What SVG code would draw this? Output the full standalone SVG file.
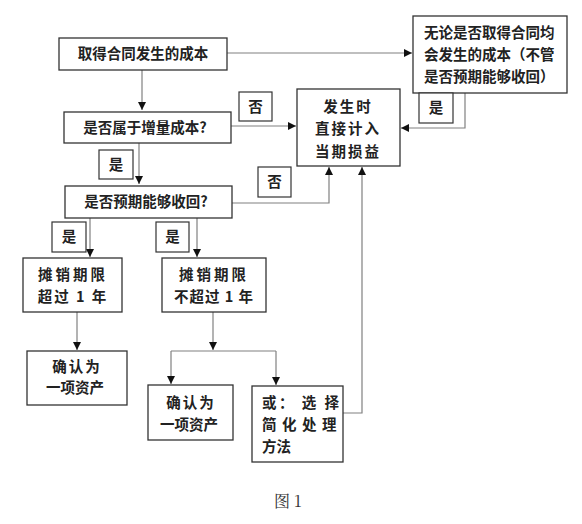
<svg xmlns="http://www.w3.org/2000/svg" width="582" height="524" viewBox="0 0 582 524">
<style>
.box{fill:#fff;stroke:#333;stroke-width:1.3}
.lab{fill:#fff;stroke:#333;stroke-width:1.2}
.t{font-family:"Noto Sans CJK SC","Noto Sans",sans-serif;font-size:14.5px;font-weight:bold;fill:#222}
.c{text-anchor:middle}
.ln{fill:none;stroke:#808080;stroke-width:1.2}
.cap{font-family:"Noto Serif CJK SC","Liberation Serif","Noto Sans CJK SC",serif;font-size:16px;fill:#333}
</style>
<defs>
<marker id="ah" markerWidth="9" markerHeight="9" refX="8" refY="4" orient="auto" markerUnits="userSpaceOnUse">
<path d="M0,0 L8,4 L0,8 Z" fill="#111"/>
</marker>
</defs>
<g id="connectors">
<path class="ln" d="M227,53 H412" marker-end="url(#ah)"/>
<path class="ln" d="M142,70 V110" marker-end="url(#ah)"/>
<path class="ln" d="M231,126 H296" marker-end="url(#ah)"/>
<path class="ln" d="M139,143 V184" marker-end="url(#ah)"/>
<path class="ln" d="M232,203 H329 V167" marker-end="url(#ah)"/>
<path class="ln" d="M465,93 V128 H401" marker-end="url(#ah)"/>
<path class="ln" d="M90,218 V257" marker-end="url(#ah)"/>
<path class="ln" d="M197,218 V257" marker-end="url(#ah)"/>
<path class="ln" d="M77,312 V350" marker-end="url(#ah)"/>
<path class="ln" d="M213,312 V350"/>
<path d="M209,342 L217,342 L213,350 Z" fill="#111"/>
<path class="ln" d="M171,351 H276"/>
<path class="ln" d="M171,351 V384" marker-end="url(#ah)"/>
<path class="ln" d="M276,351 V385" marker-end="url(#ah)"/>
<path class="ln" d="M343,413 H362 V167" marker-end="url(#ah)"/>
</g>
<g id="n1"><rect class="box" x="59" y="38" width="168" height="32"/><text class="t c" x="143" y="59">取得合同发生的成本</text></g>
<g id="n2"><rect class="box" x="64" y="112" width="167" height="31"/><text class="t c" x="145" y="133">是否属于增量成本?</text></g>
<g id="n3"><rect class="box" x="65" y="186" width="167" height="32"/><text class="t c" x="146" y="207">是否预期能够收回?</text></g>
<g id="n4"><rect class="box" x="297" y="89" width="103" height="77"/>
<text class="t c" x="348" y="112" letter-spacing="2">发生时</text>
<text class="t c" x="348" y="134" letter-spacing="2">直接计入</text>
<text class="t c" x="348" y="157" letter-spacing="2">当期损益</text></g>
<g id="n5"><rect class="box" x="413" y="16" width="154" height="77"/>
<text class="t" x="424" y="38">无论是否取得合同均</text>
<text class="t" x="424" y="60">会发生的成本（不管</text>
<text class="t" x="424" y="82">是否预期能够收回）</text></g>
<g id="n6"><rect class="box" x="23" y="258" width="99" height="54"/>
<text class="t c" x="73" y="280" letter-spacing="3">摊销期限</text>
<text class="t c" x="73" y="302" letter-spacing="2">超过 1 年</text></g>
<g id="n7"><rect class="box" x="162" y="258" width="104" height="54"/>
<text class="t c" x="214" y="280" letter-spacing="3">摊销期限</text>
<text class="t c" x="214" y="302" letter-spacing="1">不超过 1 年</text></g>
<g id="n8"><rect class="box" x="27" y="351" width="100" height="54"/>
<text class="t c" x="77" y="372" letter-spacing="2">确认为</text>
<text class="t c" x="75" y="393">一项资产</text></g>
<g id="n9"><rect class="box" x="148" y="385" width="85" height="55"/>
<text class="t c" x="191" y="408" letter-spacing="2">确认为</text>
<text class="t c" x="189" y="430">一项资产</text></g>
<g id="n10"><rect class="box" x="252" y="386" width="91" height="76"/>
<text class="t" x="262" y="408" letter-spacing="2.5">或： 选 择</text>
<text class="t" x="262" y="430" letter-spacing="5.5">简化处理</text>
<text class="t" x="262" y="452">方法</text></g>
<g id="l1"><rect class="lab" x="239" y="92" width="33" height="29"/><text class="t c" x="255.5" y="112">否</text></g>
<g id="l2"><rect class="lab" x="99" y="150" width="34" height="29"/><text class="t c" x="116" y="170">是</text></g>
<g id="l3"><rect class="lab" x="258" y="167" width="33" height="30"/><text class="t c" x="274.5" y="187">否</text></g>
<g id="l4"><rect class="lab" x="419" y="93" width="34" height="30"/><text class="t c" x="436" y="113">是</text></g>
<g id="l5"><rect class="lab" x="52" y="222" width="34" height="30"/><text class="t c" x="69" y="242">是</text></g>
<g id="l6"><rect class="lab" x="156" y="222" width="33" height="30"/><text class="t c" x="172.5" y="242">是</text></g>
<text class="cap" x="274" y="507">图 1</text>
</svg>
